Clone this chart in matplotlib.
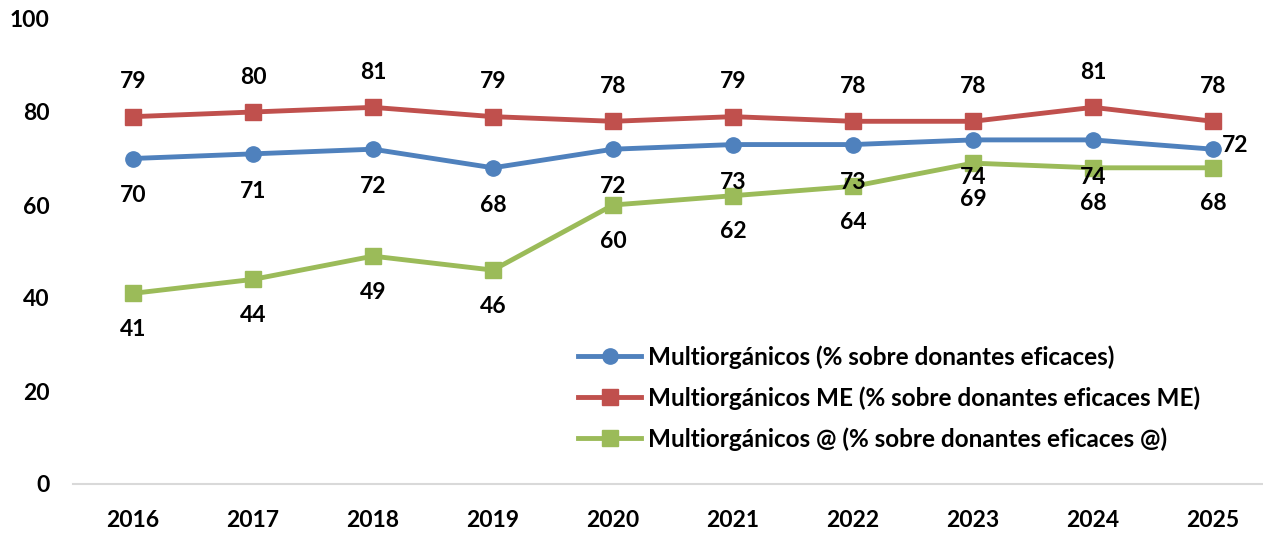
import matplotlib
matplotlib.use("Agg")
import matplotlib.pyplot as plt

years = ["2016", "2017", "2018", "2019", "2020", "2021", "2022", "2023", "2024", "2025"]
multi = [70, 71, 72, 68, 72, 73, 73, 74, 74, 72]
multi_me = [79, 80, 81, 79, 78, 79, 78, 78, 81, 78]
multi_at = [41, 44, 49, 46, 60, 62, 64, 69, 68, 68]
labels = ["Multiorgánicos (% sobre donantes eficaces)",
          "Multiorgánicos ME (% sobre donantes eficaces ME)",
          "Multiorgánicos @ (% sobre donantes eficaces @)"]

plt.rcParams['font.family'] = ['Lato', 'DejaVu Sans']
plt.rcParams['font.weight'] = 'bold'

W, H = 1263, 533
fig = plt.figure(figsize=(W / 100, H / 100), dpi=100)
ax = fig.add_axes([73 / W, 1 - 484 / H, (W - 73) / W, 465 / H])

x = list(range(len(years)))
c_blue, c_red, c_green = "#4F81BD", "#C0504D", "#9BBB59"
ax.plot(x, multi, color=c_blue, lw=3.5, marker="o", ms=11, label=labels[0])
ax.plot(x, multi_me, color=c_red, lw=3.5, marker="s", ms=11, label=labels[1])
ax.plot(x, multi_at, color=c_green, lw=3.5, marker="s", ms=11, label=labels[2])

fs = 16.5
for i, v in enumerate(multi_me):
    ax.annotate(str(v), (i, v), xytext=(0, 25), textcoords="offset points",
                ha="center", va="center", fontsize=fs, fontweight="bold")
for i, v in enumerate(multi):
    if i == len(multi) - 1:
        ax.annotate(str(v), (i, v), xytext=(16, 3), textcoords="offset points",
                    ha="center", va="center", fontsize=fs, fontweight="bold")
    else:
        ax.annotate(str(v), (i, v), xytext=(0, -27), textcoords="offset points",
                    ha="center", va="center", fontsize=fs, fontweight="bold")
for i, v in enumerate(multi_at):
    ax.annotate(str(v), (i, v), xytext=(0, -26), textcoords="offset points",
                ha="center", va="center", fontsize=fs, fontweight="bold")

ax.set_xlim(-0.5, -0.5 + (W - 73) / 120)
ax.set_ylim(0, 100)
ax.set_yticks([0, 20, 40, 60, 80, 100])
ax.set_xticks(x)
ax.set_xticklabels(years)
ax.tick_params(axis="both", length=0, labelsize=fs)
ax.tick_params(axis="x", pad=19)
ax.tick_params(axis="y", pad=17)
for lab in ax.get_xticklabels() + ax.get_yticklabels():
    lab.set_fontweight("bold")
for s in ["top", "right", "left"]:
    ax.spines[s].set_visible(False)
ax.spines["bottom"].set_color("#D9D9D9")
ax.spines["bottom"].set_linewidth(1.5)

leg = ax.legend(loc="upper left", bbox_to_anchor=((578 - 73) / (W - 73), 1 - (345 - 19) / 465),
                frameon=False, fontsize=17.5, handlelength=2.6, handletextpad=0.3,
                labelspacing=0.72, borderaxespad=0, borderpad=0)
for t in leg.get_texts():
    t.set_fontweight("bold")

fig.savefig("out.png", dpi=100)
